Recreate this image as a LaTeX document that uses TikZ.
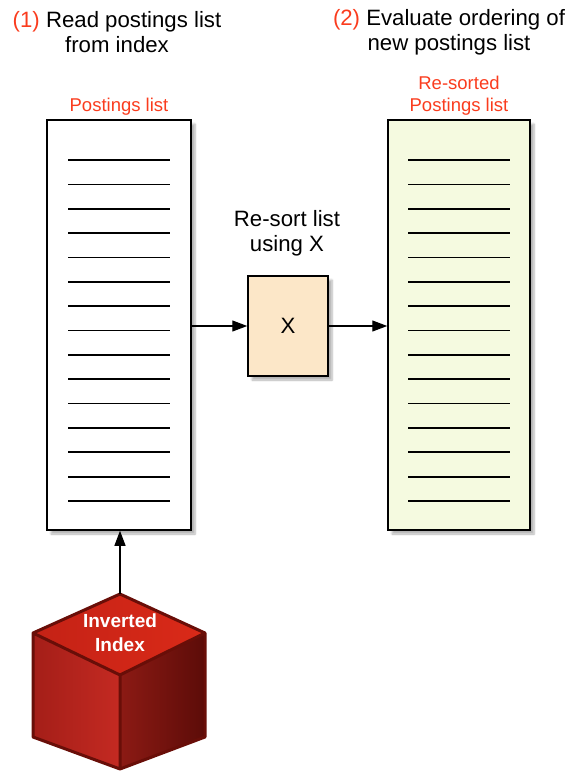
\documentclass[tikz,border=0pt]{standalone}
\usepackage{fontspec}
\setmainfont{Liberation Sans}
\usetikzlibrary{arrows.meta,shadows.blur}

\definecolor{labelred}{RGB}{250,60,30}
\definecolor{sortedfill}{RGB}{245,250,224}
\definecolor{xfill}{RGB}{252,231,200}
\definecolor{cubeedge}{RGB}{105,14,8}
\definecolor{cubetopa}{RGB}{196,34,22}
\definecolor{cubetopb}{RGB}{218,42,24}
\definecolor{cubelefta}{RGB}{164,30,24}
\definecolor{cubeleftb}{RGB}{196,42,34}
\definecolor{cuberighta}{RGB}{140,26,20}
\definecolor{cuberightb}{RGB}{92,12,8}

\begin{document}
\begin{tikzpicture}[x=1pt,y=-1pt,
    every node/.style={font=\fontsize{22.2}{25}\selectfont},
    listbox/.style={draw=black, line width=1.5pt, minimum width=144pt, minimum height=410pt,
        blur shadow={shadow xshift=4pt, shadow yshift=-4pt, shadow blur steps=6, shadow opacity=30}},
    redlabel/.style={text=labelred, font=\fontsize{18.5}{22}\selectfont, align=center},
    conn/.style={-{Triangle[length=15pt,width=11pt]}, line width=1.2pt}]
    \useasboundingbox (0,0) rectangle (569,771);

    % headings
    \node[align=center] (head1) at (117,32) {{\color{labelred}(1)} Read postings list\\from index};
    \node[align=center] (head2) at (449,32) {{\color{labelred}(2)} Evaluate ordering of\\new postings list};

    % the two lists
    \node[listbox, fill=white] (postings) at (119,325) {};
    \node[listbox, fill=sortedfill, minimum width=142pt] (sorted) at (459,325) {};
    \node[redlabel] (postingslbl) at (119,107) {Postings list};
    \node[redlabel] (sortedlbl) at (459,96) {Re-sorted\\Postings list};

    \foreach \i in {0,...,14} {
        \draw[line width=1.7pt] (68,{160+\i*24.36}) -- (170,{160+\i*24.36});
        \draw[line width=1.7pt] (408,{160+\i*24.36}) -- (510,{160+\i*24.36});
    }

    % re-sort step
    \node[draw=black, line width=1.5pt, fill=xfill, minimum width=80pt, minimum height=100pt,
        blur shadow={shadow xshift=4pt, shadow yshift=-4pt, shadow blur steps=6, shadow opacity=30}]
        (xbox) at (288,326) {X};
    \node[align=center] (sortlbl) at (287,233) {Re-sort list\\using X};

    \draw[conn] (postings.east |- xbox.west) -- (xbox.west);
    \draw[conn] (xbox.east) -- (sorted.west |- xbox.east);

    % inverted index cube
    \coordinate (idxtop) at (120,594);
    \coordinate (idxleft) at (33,633);
    \coordinate (idxright) at (205,633);
    \coordinate (idxmid) at (120,675);
    \coordinate (idxbl) at (33,737);
    \coordinate (idxbr) at (205,737);
    \coordinate (idxbot) at (120,769);
    \shade[left color=cubelefta, right color=cubeleftb]
        (idxleft) -- (idxmid) -- (idxbot) -- (idxbl) -- cycle;
    \shade[left color=cuberighta, right color=cuberightb]
        (idxmid) -- (idxright) -- (idxbr) -- (idxbot) -- cycle;
    \shade[left color=cubetopa, right color=cubetopb]
        (idxtop) -- (idxright) -- (idxmid) -- (idxleft) -- cycle;
    \draw[cubeedge, line width=3pt, line join=round]
        (idxtop) -- (idxright) -- (idxbr) -- (idxbot) -- (idxbl) -- (idxleft) -- cycle
        (idxleft) -- (idxmid) -- (idxright) (idxmid) -- (idxbot);
    \node[text=white, align=center, font=\fontsize{19}{24}\selectfont\bfseries] (idxlbl) at (120,633) {Inverted\\Index};

    \draw[conn] (idxtop) -- (idxtop |- postings.south);
\end{tikzpicture}
\end{document}
